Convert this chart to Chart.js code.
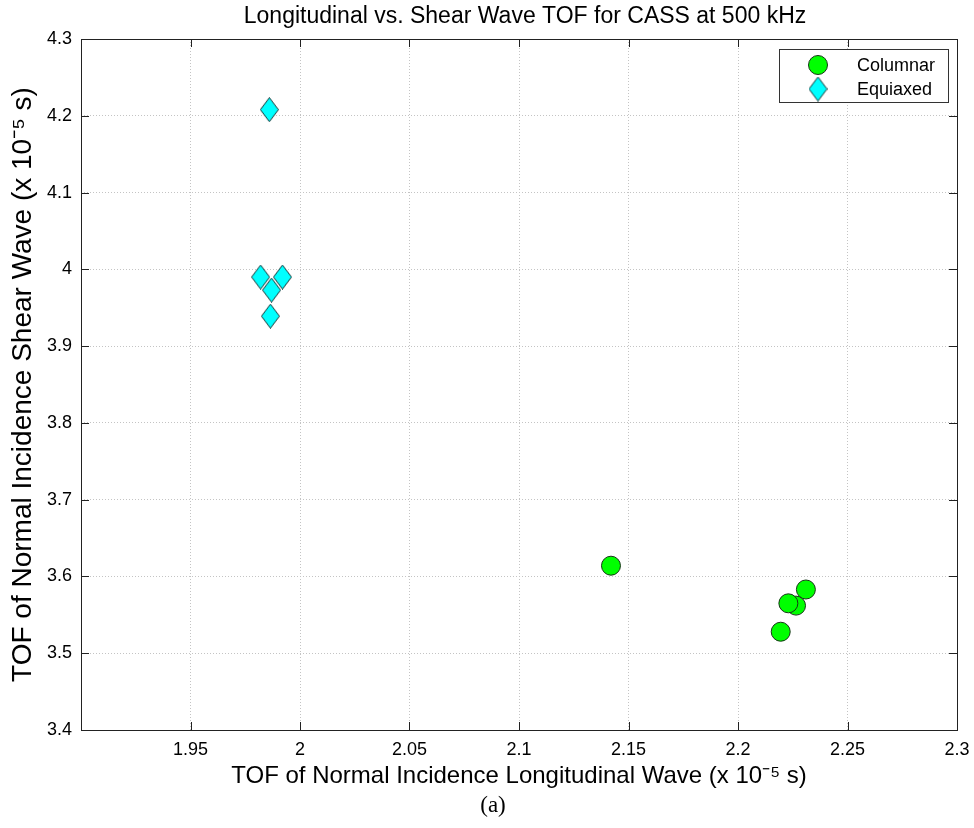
<!DOCTYPE html>
<html>
<head>
<meta charset="utf-8">
<script src="https://cdn.jsdelivr.net/npm/chart.js@4/dist/chart.umd.min.js"></script>
<style>
  html, body { margin: 0; padding: 0; background: #fff; }
  #wrap { width: 974px; height: 828px; position: relative; }
</style>
</head>
<body>
<div id="wrap"><canvas id="chart"></canvas></div>
<script>
// valores (x 10^-5 s)
const columnarX = [2.142, 2.231, 2.2265, 2.223, 2.2195];
const columnarY = [3.614, 3.583, 3.562, 3.565, 3.528];
const equiaxedX = [1.986, 1.982, 1.992, 1.987, 1.9865];
const equiaxedY = [4.208, 3.990, 3.990, 3.973, 3.939];

const xTicks = [1.95, 2, 2.05, 2.1, 2.15, 2.2, 2.25, 2.3];
const yTicks = [3.4, 3.5, 3.6, 3.7, 3.8, 3.9, 4, 4.1, 4.2, 4.3];

const FONT = '"Liberation Sans", Arial, sans-serif';
Chart.defaults.font.family = FONT;
Chart.defaults.color = '#000';

// rombo tipo matlab (mas alto que ancho)
function makeDiamond(w, h, fill, stroke) {
    const c = document.createElement('canvas');
    c.width = w; c.height = h;
    const g = c.getContext('2d');
    g.beginPath();
    g.moveTo(w / 2, 0.5);
    g.lineTo(w - 0.5, h / 2);
    g.lineTo(w / 2, h - 0.5);
    g.lineTo(0.5, h / 2);
    g.closePath();
    g.fillStyle = fill;
    g.fill();
    g.strokeStyle = stroke;
    g.lineWidth = 1;
    g.stroke();
    return c;
}
const diamond = makeDiamond(19, 25, '#00ffff', '#173535');

const frame = {
    id: 'frame',
    afterDraw(chart) {
        const { ctx, chartArea: a, scales } = chart;
        ctx.save();
        // marco completo
        ctx.strokeStyle = '#222';
        ctx.lineWidth = 1;
        ctx.strokeRect(Math.round(a.left) + 0.5, Math.round(a.top) + 0.5,
            Math.round(a.right - a.left), Math.round(a.bottom - a.top));
        // ticks hacia dentro
        ctx.beginPath();
        xTicks.forEach(v => {
            const x = Math.round(scales.x.getPixelForValue(v)) + 0.5;
            ctx.moveTo(x, a.bottom); ctx.lineTo(x, a.bottom - 8);
            ctx.moveTo(x, a.top); ctx.lineTo(x, a.top + 8);
        });
        yTicks.forEach(v => {
            const y = Math.round(scales.y.getPixelForValue(v)) + 0.5;
            ctx.moveTo(a.left, y); ctx.lineTo(a.left + 8, y);
            ctx.moveTo(a.right, y); ctx.lineTo(a.right - 8, y);
        });
        ctx.stroke();

        // titulo centrado sobre el area
        ctx.fillStyle = '#000';
        ctx.textAlign = 'center';
        ctx.textBaseline = 'middle';
        ctx.font = '23px ' + FONT;
        ctx.fillText('Longitudinal vs. Shear Wave TOF for CASS at 500 kHz', 525, 17);

        // leyenda
        const lx = 779, ly = 49, lw = 169, lh = 53;
        ctx.fillStyle = '#fff';
        ctx.fillRect(lx, ly, lw, lh);
        ctx.strokeStyle = '#333';
        ctx.strokeRect(lx + 0.5, ly + 0.5, lw, lh);
        const ds = chart.data.datasets;
        ctx.beginPath();
        ctx.arc(818, 65, 9.5, 0, Math.PI * 2);
        ctx.fillStyle = ds[0].backgroundColor;
        ctx.fill();
        ctx.strokeStyle = ds[0].borderColor;
        ctx.stroke();
        ctx.drawImage(diamond, 818 - diamond.width / 2, 89 - diamond.height / 2);
        ctx.fillStyle = '#000';
        ctx.textAlign = 'left';
        ctx.font = '18px ' + FONT;
        ctx.fillText(ds[0].label, 857, 66);
        ctx.fillText(ds[1].label, 857, 90);

        // etiqueta de la figura
        ctx.textAlign = 'center';
        ctx.font = '23px "Liberation Serif", "Times New Roman", serif';
        ctx.fillText('(a)', 493, 806);
        ctx.restore();
    }
};

new Chart(document.getElementById('chart'), {
    type: 'scatter',
    data: {
        datasets: [{
            label: 'Columnar',
            data: columnarX.map((x, i) => ({ x, y: columnarY[i] })),
            backgroundColor: '#00ff00',
            borderColor: '#173517',
            borderWidth: 1,
            pointRadius: 9.5,
            pointHoverRadius: 9.5
        }, {
            label: 'Equiaxed',
            data: equiaxedX.map((x, i) => ({ x, y: equiaxedY[i] })),
            backgroundColor: '#00ffff',
            borderColor: '#173535',
            pointStyle: diamond,
            pointRadius: 12
        }]
    },
    options: {
        responsive: true,
        maintainAspectRatio: false,
        animation: false,
        layout: { padding: { top: 39, right: 17, left: 0, bottom: 0 } },
        plugins: {
            legend: { display: false },
            tooltip: { enabled: false }
        },
        scales: {
            x: {
                type: 'linear',
                min: 1.9,
                max: 2.3,
                afterFit(s) { s.height = 98; s.paddingLeft = 0; s.paddingRight = 0; },
                afterBuildTicks(s) { s.ticks = xTicks.map(v => ({ value: v })); },
                grid: { color: '#c4c4c4', drawTicks: false },
                border: { display: false, dash: [1, 2] },
                ticks: {
                    padding: 9,
                    font: { size: 18 },
                    callback: v => String(v)
                },
                title: {
                    display: true,
                    text: 'TOF of Normal Incidence Longitudinal Wave (x 10\u207B\u2075 s)',
                    font: { size: 24 },
                    padding: { top: 0, bottom: 37 }
                }
            },
            y: {
                type: 'linear',
                min: 3.4,
                max: 4.3,
                afterFit(s) { s.width = 81; s.paddingTop = 0; s.paddingBottom = 0; },
                afterBuildTicks(s) { s.ticks = yTicks.map(v => ({ value: v })); },
                grid: { color: '#c4c4c4', drawTicks: false },
                border: { display: false, dash: [1, 2] },
                ticks: {
                    padding: 9,
                    font: { size: 18 },
                    callback: v => String(v)
                },
                title: {
                    display: true,
                    text: 'TOF of Normal Incidence Shear Wave (x 10\u207B\u2075 s)',
                    font: { size: 28 },
                    padding: { top: 6, bottom: 0 }
                }
            }
        }
    },
    plugins: [frame]
});
</script>
</body>
</html>
